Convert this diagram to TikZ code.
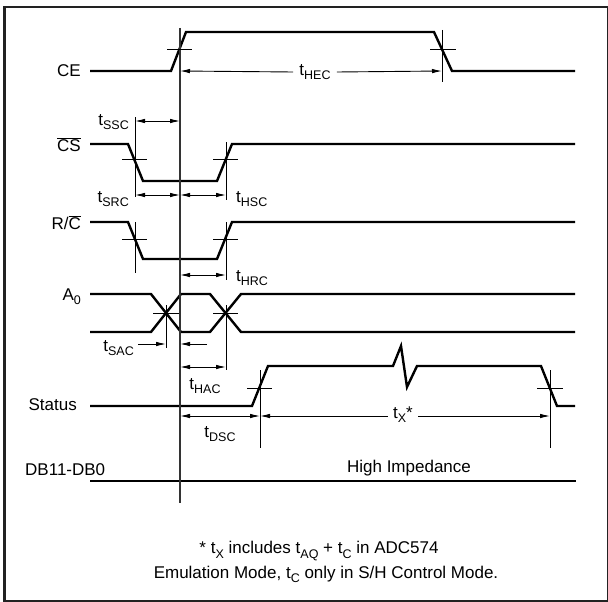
\documentclass[tikz,border=0pt]{standalone}
\usepackage{fontspec}
\setmainfont{Liberation Sans}
\usetikzlibrary{arrows.meta}

\newcommand{\lowsub}[1]{\raisebox{-0.45ex}{\fontsize{12.5}{12.5}\selectfont #1}}
\newcommand{\tlab}[1]{t\lowsub{#1}}

\begin{document}
\begin{tikzpicture}[x=1pt, y=-1pt,
		sig/.style={line width=2.4pt, line join=miter},
		tick/.style={line width=0.9pt},
		refline/.style={line width=1.2pt, color=black!80},
		dimarrow/.style={line width=0.9pt, {Latex[length=10pt,width=4.5pt]}-{Latex[length=10pt,width=4.5pt]}},
		onearrow/.style={line width=0.9pt, -{Latex[length=10pt,width=4.5pt]}},
		signame/.style={inner sep=0pt, anchor=east, font=\fontsize{17}{20}\selectfont},
		timelabel/.style={inner sep=0pt, font=\fontsize{17}{20}\selectfont}]
					\definecolor{frameColour}{RGB}{34, 34, 34}

					\useasboundingbox (0, 0) rectangle (608, 602);
					\draw[color=frameColour, line width=2.5pt] (4.5, 7) rectangle (608.5, 601);

					\node[signame] (ce) at (81, 71) {CE};
					\node[signame] (cs) at (81, 145) {$\overline{\mbox{CS}}$};
					\node[signame] (rc) at (81, 223) {R/$\overline{\mbox{C}}$};
					\node[signame] (a0) at (81, 297) {A\lowsub{0}};
					\node[signame] (status) at (77, 405) {Status};
					\node[signame, anchor=west] (db) at (25, 470) {DB11-DB0};
					\node[timelabel] (impedance) at (409, 468) {High Impedance};

					\draw[sig] (90, 71) -- (171, 71) -- (186, 32) -- (434, 32) -- (452, 71) -- (575, 71);
					\draw[sig] (90, 144) -- (128, 144) -- (143, 181) -- (217, 181) -- (232, 144) -- (575, 144);
					\draw[sig] (90, 222) -- (128, 222) -- (143, 259) -- (217, 259) -- (232, 222) -- (575, 222);
					\draw[sig] (90, 294) -- (151, 294) -- (181, 332) -- (210, 332) -- (241, 294) -- (575, 294);
					\draw[sig] (90, 332) -- (151, 332) -- (181, 294) -- (210, 294) -- (241, 332) -- (575, 332);
					\draw[sig] (90, 406) -- (252, 406) -- (268, 366) -- (393, 366) -- (401, 346) -- (407, 387) -- (417, 366) -- (541, 366) -- (557, 406) -- (575, 406);
					\draw[sig] (90, 481) -- (576, 481);

					\draw[refline] (180, 28) -- (180, 503);

					\draw[tick] (167, 49) -- (192, 49);
					\draw[tick] (442, 30) -- (442, 82);
					\draw[tick] (430, 49) -- (456, 49);
					\draw[tick] (135, 117) -- (135, 197);
					\draw[tick] (122, 159) -- (147, 159);
					\draw[tick] (226, 142) -- (226, 200);
					\draw[tick] (213, 159) -- (238, 159);
					\draw[tick] (135, 222) -- (135, 273);
					\draw[tick] (122, 239) -- (147, 239);
					\draw[tick] (226, 222) -- (226, 280);
					\draw[tick] (213, 239) -- (238, 239);
					\draw[tick] (166, 305) -- (166, 348);
					\draw[tick] (153, 313) -- (179, 313);
					\draw[tick] (226, 305) -- (226, 370);
					\draw[tick] (213, 313) -- (238, 313);
					\draw[tick] (260, 370) -- (260, 448);
					\draw[tick] (247, 388) -- (272, 388);
					\draw[tick] (550, 370) -- (550, 448);
					\draw[tick] (537, 388) -- (563, 388);

					\node[timelabel] (thec) at (315, 72) {\tlab{HEC}};
					\draw[onearrow] (thec.west) ++(-6, 0) coordinate (thecl) -- (180, 71);
					\draw[onearrow] (thec.east) ++(6, 0) coordinate (thecr) -- (442, 71);

					\node[timelabel, anchor=east] (tssc) at (129, 122) {\tlab{SSC}};
					\draw[dimarrow] (135, 121) -- (180, 121);

					\node[timelabel, anchor=east] (tsrc) at (129, 199) {\tlab{SRC}};
					\draw[dimarrow] (135, 195) -- (180, 195);
					\node[timelabel, anchor=west] (thsc) at (236, 199) {\tlab{HSC}};
					\draw[dimarrow] (180, 195) -- (226, 195);

					\node[timelabel, anchor=west] (thrc) at (236, 278) {\tlab{HRC}};
					\draw[dimarrow] (180, 275) -- (226, 275);

					\node[timelabel, anchor=east] (tsac) at (134, 348) {\tlab{SAC}};
					\draw[onearrow] (138, 344) -- (166, 344);
					\draw[onearrow] (207, 344) -- (180, 344);

					\draw[dimarrow] (180, 367) -- (226, 367);
					\node[timelabel] (thac) at (205, 386) {\tlab{HAC}};

					\draw[dimarrow] (180, 416) -- (260, 416);
					\node[timelabel] (tdsc) at (220, 434) {\tlab{DSC}};

					\node[timelabel] (tx) at (403, 415) {\tlab{X}*};
					\draw[onearrow] (tx.west) ++(-5, 1) coordinate (txl) -- (260, 416);
					\draw[onearrow] (tx.east) ++(5, 1) coordinate (txr) -- (550, 416);

					\node[timelabel] (note1) at (319, 551) {* \tlab{X} includes \tlab{AQ} + \tlab{C} in ADC574};
					\node[timelabel] (note2) at (326, 574) {Emulation Mode, \tlab{C} only in S/H Control Mode.};
				\end{tikzpicture}
\end{document}
